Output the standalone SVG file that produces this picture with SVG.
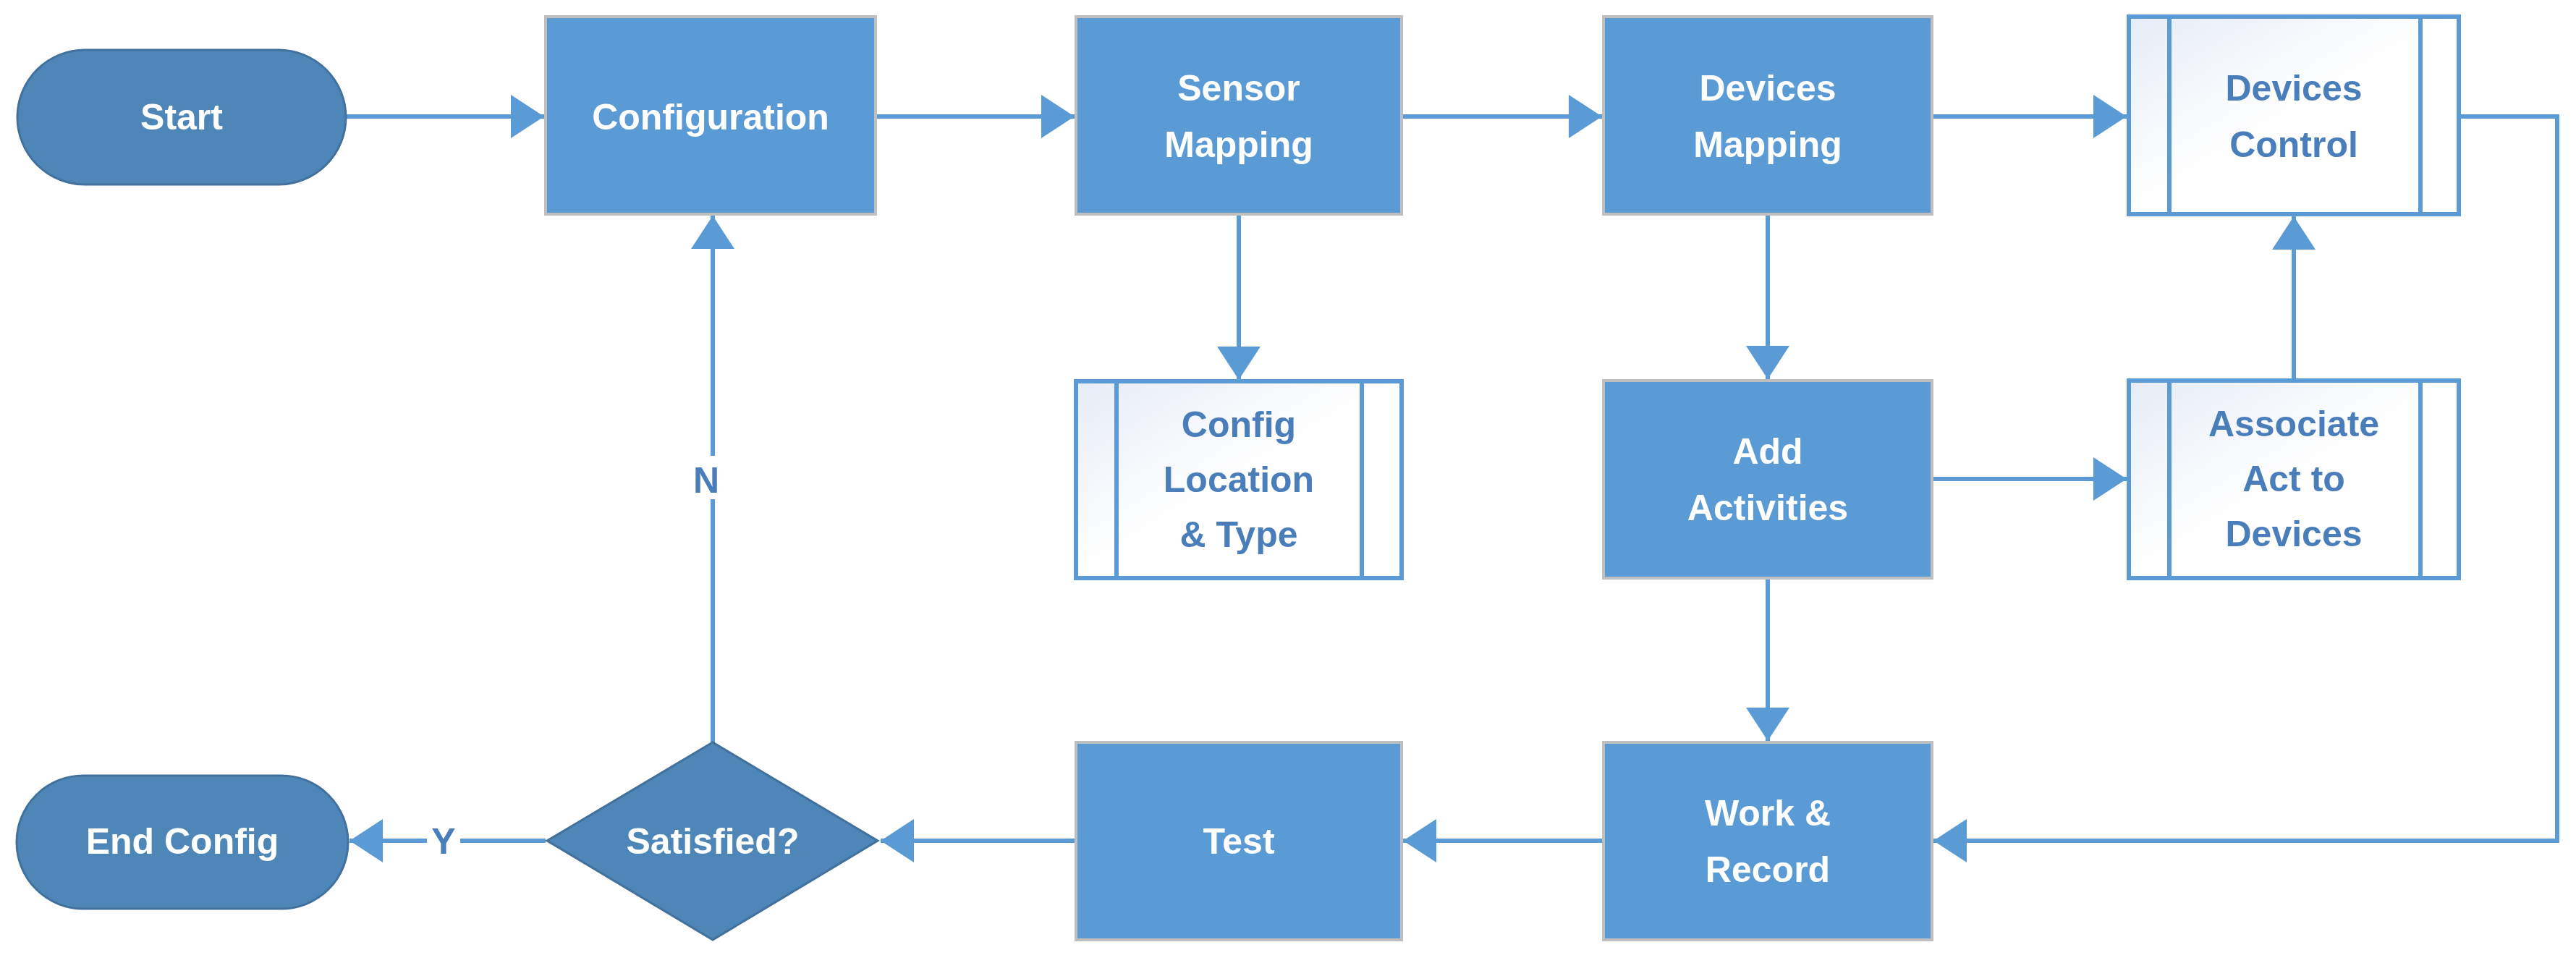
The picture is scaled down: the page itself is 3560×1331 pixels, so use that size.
<svg xmlns="http://www.w3.org/2000/svg" width="3560" height="1331" viewBox="0 0 3560 1331">
<style>
.proc{fill:#5B9BD5;stroke:#BFBFBF;stroke-width:4}
.term{fill:#4E86B8;stroke:#41719C;stroke-width:3}
.pre{fill:url(#pg);stroke:#5B9BD5;stroke-width:6}
.w{fill:#fff;font-family:"Liberation Sans",Arial,sans-serif;font-weight:bold;font-size:50px;text-anchor:middle}
.b{fill:#4A7EBB;font-family:"Liberation Sans",Arial,sans-serif;font-weight:bold;font-size:50px;text-anchor:middle}
.c{fill:none;stroke:#5B9BD5;stroke-width:6}
</style>
<defs>
<linearGradient id="pg" x1="0" y1="0" x2="1" y2="1"><stop offset="0" stop-color="#E6ECF6"/><stop offset="0.5" stop-color="#FFFFFF"/><stop offset="1" stop-color="#FFFFFF"/></linearGradient>
<marker id="ah" markerUnits="userSpaceOnUse" markerWidth="50" markerHeight="60" refX="46" refY="30" orient="auto"><path d="M0,0 L46,30 L0,60 Z" fill="#5B9BD5"/></marker>
</defs>
<g id="connectors">
<path class="c" d="M478,161 H752" marker-end="url(#ah)"/>
<path class="c" d="M1210,161 H1485" marker-end="url(#ah)"/>
<path class="c" d="M1937,161 H2214" marker-end="url(#ah)"/>
<path class="c" d="M2670,161 H2939" marker-end="url(#ah)"/>
<path class="c" d="M1712,296 V525" marker-end="url(#ah)"/>
<path class="c" d="M2443,296 V524" marker-end="url(#ah)"/>
<path class="c" d="M2670,662 H2939" marker-end="url(#ah)"/>
<path class="c" d="M3170,525 V299" marker-end="url(#ah)"/>
<path class="c" d="M2443,799 V1024" marker-end="url(#ah)"/>
<path class="c" d="M3399,161 H3534 V1162 H2672" marker-end="url(#ah)"/>
<path class="c" d="M2216,1162 H1939" marker-end="url(#ah)"/>
<path class="c" d="M1487,1162 H1217" marker-end="url(#ah)"/>
<path class="c" d="M754,1162 H483" marker-end="url(#ah)"/>
<path class="c" d="M985,1026 V298" marker-end="url(#ah)"/>
<rect x="950" y="630" width="50" height="60" fill="#fff"/>
<text class="b" x="976" y="681">N</text>
<rect x="590" y="1130" width="46" height="60" fill="#fff"/>
<text class="b" x="613" y="1180">Y</text>
</g>
<g id="start"><rect class="term" x="24" y="69" width="454" height="186" rx="93"/><text class="w" x="251" y="179">Start</text></g>
<g id="configuration"><rect class="proc" x="754" y="23" width="456" height="273"/><text class="w" x="982" y="179">Configuration</text></g>
<g id="sensor-mapping"><rect class="proc" x="1487" y="23" width="450" height="273"/><text class="w" x="1712" y="139">Sensor</text><text class="w" x="1712" y="217">Mapping</text></g>
<g id="devices-mapping"><rect class="proc" x="2216" y="23" width="454" height="273"/><text class="w" x="2443" y="139">Devices</text><text class="w" x="2443" y="217">Mapping</text></g>
<g id="devices-control"><rect class="pre" x="2942" y="23" width="456" height="273"/><path class="c" d="M2998,23 V296 M3345,23 V296"/><text class="b" x="3170" y="139">Devices</text><text class="b" x="3170" y="217">Control</text></g>
<g id="config-location"><rect class="pre" x="1487" y="527" width="450" height="272"/><path class="c" d="M1543,527 V799 M1882,527 V799"/><text class="b" x="1712" y="604">Config</text><text class="b" x="1712" y="680">Location</text><text class="b" x="1712" y="756">&amp; Type</text></g>
<g id="add-activities"><rect class="proc" x="2216" y="526" width="454" height="273"/><text class="w" x="2443" y="641">Add</text><text class="w" x="2443" y="719">Activities</text></g>
<g id="associate"><rect class="pre" x="2942" y="526" width="456" height="273"/><path class="c" d="M2998,526 V799 M3345,526 V799"/><text class="b" x="3170" y="603">Associate</text><text class="b" x="3170" y="679">Act to</text><text class="b" x="3170" y="755">Devices</text></g>
<g id="work-record"><rect class="proc" x="2216" y="1026" width="454" height="273"/><text class="w" x="2443" y="1141">Work &amp;</text><text class="w" x="2443" y="1219">Record</text></g>
<g id="test"><rect class="proc" x="1487" y="1026" width="450" height="273"/><text class="w" x="1712" y="1180">Test</text></g>
<g id="satisfied"><path class="term" d="M985,1026 L1213,1162 L985,1299 L756,1162 Z"/><text class="w" x="985" y="1180">Satisfied?</text></g>
<g id="end-config"><rect class="term" x="23" y="1072" width="458" height="184" rx="92"/><text class="w" x="252" y="1180">End Config</text></g>
</svg>
